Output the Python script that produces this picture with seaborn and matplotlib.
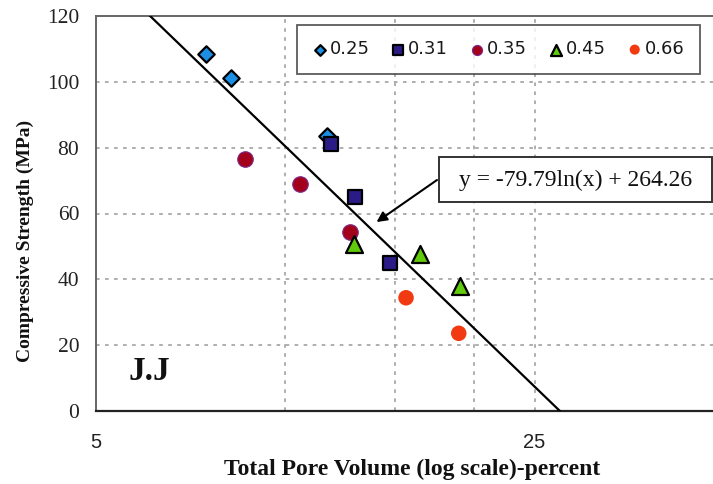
import numpy as np
import pandas as pd
import matplotlib
matplotlib.use("Agg")
import matplotlib.pyplot as plt
import seaborn as sns
from matplotlib.patches import Rectangle
from matplotlib.ticker import FixedLocator, FixedFormatter, NullLocator

# ---- data ----
groups = ["0.25", "0.31", "0.35", "0.45", "0.66"]
pore_025 = [7.49, 8.20, 11.67]
cs_025 = [108.5, 101.3, 83.5]
pore_031 = [11.84, 12.95, 14.73]
cs_031 = [81.1, 65.1, 45.0]
pore_035 = [8.64, 10.56, 12.72]
cs_035 = [76.6, 69.0, 54.5]
pore_045 = [12.90, 16.44, 19.0]
cs_045 = [50.7, 47.7, 37.9]
pore_066 = [15.6, 18.93]
cs_066 = [34.4, 23.6]

trend_slope = -79.79
trend_intercept = 264.26
equation_text = "y = -79.79ln(x) + 264.26"

x_ticks = [5, 10, 15, 20, 25]
x_tick_labels = ["5", "", "", "", "25"]
y_ticks = [0, 20, 40, 60, 80, 100, 120]

frames = []
for g, xs, ys in zip(groups,
                     [pore_025, pore_031, pore_035, pore_045, pore_066],
                     [cs_025, cs_031, cs_035, cs_045, cs_066]):
    frames.append(pd.DataFrame({"pore": xs, "strength": ys, "wc": g}))
df = pd.concat(frames, ignore_index=True)

styles = {
    "0.25": dict(marker="D", color="#1A8FE3", ec="black", lw=1.6, s=70),
    "0.31": dict(marker="s", color="#2B1B86", ec="black", lw=1.6, s=115),
    "0.35": dict(marker="o", color="#A3001C", ec="#7A2A8A", lw=0.8, s=125),
    "0.45": dict(marker="^", color="#5FCB0A", ec="black", lw=1.6, s=150),
    "0.66": dict(marker="o", color="#F23A12", ec="none", lw=0, s=125),
}

sns.set_theme(style="white")
W, H = 713, 484
fig = plt.figure(figsize=(W/100, H/100), dpi=100)
ax_w_px = 1.02*W - 96
ax = fig.add_axes([96/W, 1-411/H, ax_w_px/W, 395/H])

for g in groups:
    st = styles[g]
    sns.scatterplot(data=df[df["wc"] == g], x="pore", y="strength",
                    marker=st["marker"], color=st["color"], edgecolor=st["ec"],
                    linewidth=st["lw"], s=st["s"], label=g, ax=ax, zorder=4)

# trend line from the printed equation
xl = np.geomspace(5, 30, 60)
trend = pd.DataFrame({"x": xl, "y": trend_slope*np.log(xl) + trend_intercept})
sns.lineplot(data=trend, x="x", y="y", color="black", linewidth=1.6, ax=ax, zorder=3)

ax.set_xscale("log")
ax.set_xlim(5, 48.3 * 1.05)
ax.set_ylim(0, 120)
ax.xaxis.set_major_locator(FixedLocator(x_ticks))
ax.xaxis.set_major_formatter(FixedFormatter(x_tick_labels))
ax.xaxis.set_minor_locator(NullLocator())
ax.set_yticks(y_ticks)
ax.set_yticklabels([str(v) for v in y_ticks], family="Liberation Serif", fontsize=15.5)
for lab in ax.get_xticklabels():
    lab.set_family("Liberation Sans")
    lab.set_fontsize(14.5)
ax.tick_params(axis="x", length=0, pad=16, colors="#222222")
ax.tick_params(axis="y", length=0, pad=12, colors="#222222")

ax.grid(True, color="#A8A8A8", linestyle=(0, (2, 3)), linewidth=1.3)
ax.set_axisbelow(True)
for side in ["left", "top", "right"]:
    ax.spines[side].set_color("#666666")
    ax.spines[side].set_linewidth(1.4)
ax.spines["bottom"].set_color("#222222")
ax.spines["bottom"].set_linewidth(1.6)

ax.set_xlabel("Total Pore Volume (log scale)-percent", family="Liberation Serif",
              fontweight="bold", fontsize=17, color="#111111")
ax.set_ylabel("Compressive Strength (MPa)", family="Liberation Serif",
              fontweight="bold", fontsize=14, color="#111111")
ax.xaxis.set_label_coords((412.5 - 96) / ax_w_px, -(459 - 411) / 395)
ax.yaxis.set_label_coords(-(96 - 34) / ax_w_px, (411 - 241) / 395)

ax.text(128/W, 1 - 372/H, "J.J", transform=fig.transFigure, family="Liberation Serif",
        fontweight="bold", fontsize=24, va="center", ha="left", color="#111111")

# equation box with arrow
fig.patches.append(Rectangle((439/W, 1-202/H), 273/W, 45/H, transform=fig.transFigure,
                             facecolor="white", edgecolor="#333333", linewidth=1.4,
                             zorder=6, figure=fig))
fig.text(575.5/W, 1-180/H, equation_text, ha="center", va="center",
         family="Liberation Serif", fontsize=17, color="#111111", zorder=7)
ax.annotate("", xy=(14.0, 57.4), xycoords="data",
            xytext=(437/W, 1-180/H), textcoords="figure fraction",
            arrowprops=dict(arrowstyle="-|>", color="black", lw=1.5,
                            mutation_scale=15, shrinkA=0, shrinkB=0),
            zorder=6)

leg = ax.legend(loc="upper left", bbox_to_anchor=(297/W, 1 - 25/H),
                bbox_transform=fig.transFigure, ncol=5, frameon=True, fancybox=False,
                prop=dict(family="DejaVu Sans", size=13),
                markerscale=0.65, handletextpad=0.15, columnspacing=1.2,
                borderpad=0.85, handlelength=0.8, borderaxespad=0)
leg.get_frame().set_edgecolor("#333333")
leg.get_frame().set_linewidth(1.3)
for t in leg.get_texts():
    t.set_color("#1A1A1A")

fig.savefig("out.png", dpi=100)
